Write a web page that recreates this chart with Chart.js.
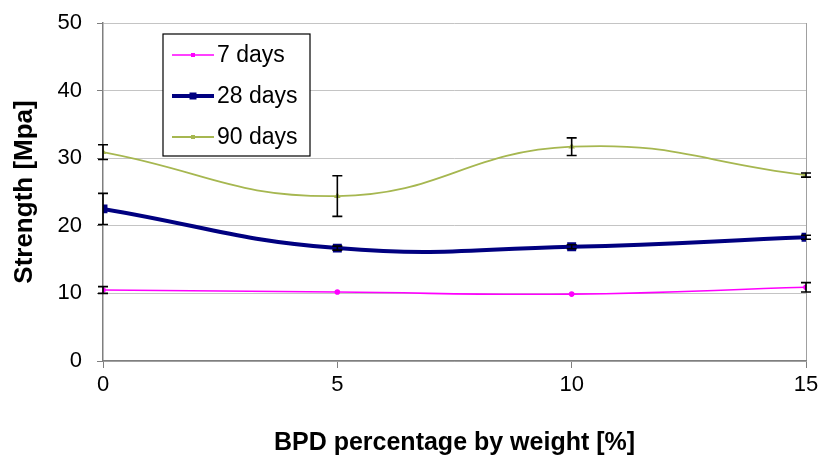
<!DOCTYPE html>
<html>
<head>
<meta charset="utf-8">
<script src="https://cdn.jsdelivr.net/npm/chart.js@4"></script>
<style>
  html, body { margin: 0; padding: 0; background: #fff; }
  #wrap { width: 822px; height: 459px; }
</style>
</head>
<body>
<div id="wrap"><canvas id="c" width="822" height="459"></canvas></div>
<script>
// datos
const bpd = [0, 5, 10, 15];
const days7 = [10.5, 10.2, 9.9, 10.9];
const days28 = [22.5, 16.7, 16.9, 18.3];
const days90 = [30.9, 24.4, 31.7, 27.5];
const err7 = [0.5, 0, 0, 0.7];
const err28 = [2.3, 0.3, 0.3, 0.3];
const err90 = [1.1, 3.0, 1.3, 0.3];
const yTicks = [0, 10, 20, 30, 40, 50];
const xTicks = [0, 5, 10, 15];

const font = "'Liberation Sans', Arial, sans-serif";

function pts(vals) {
  return bpd.map((x, i) => ({ x: x, y: vals[i] }));
}

// barras de error
const errorBars = {
  id: 'errorBars',
  afterDatasetsDraw(chart) {
    const ctx = chart.ctx;
    const xs = chart.scales.x, ys = chart.scales.y;
    ctx.save();
    ctx.strokeStyle = '#000';
    ctx.lineWidth = 1.6;
    chart.data.datasets.forEach(ds => {
      ds.errors.forEach((e, i) => {
        if (!e) return;
        const px = xs.getPixelForValue(bpd[i]);
        const top = ys.getPixelForValue(ds.data[i].y + e);
        const bot = ys.getPixelForValue(ds.data[i].y - e);
        ctx.beginPath();
        ctx.moveTo(px, top); ctx.lineTo(px, bot);
        ctx.moveTo(px - 5, top); ctx.lineTo(px + 5, top);
        ctx.moveTo(px - 5, bot); ctx.lineTo(px + 5, bot);
        ctx.stroke();
      });
    });
    ctx.restore();
  }
};

// leyenda con recuadro
const boxLegend = {
  id: 'boxLegend',
  afterDraw(chart) {
    const ctx = chart.ctx;
    ctx.save();
    ctx.fillStyle = '#fff';
    ctx.fillRect(163, 34, 147, 122);
    ctx.strokeStyle = '#000';
    ctx.lineWidth = 1.2;
    ctx.strokeRect(163, 34, 147, 122);
    ctx.font = '23px ' + font;
    ctx.textBaseline = 'middle';
    chart.data.datasets.forEach((ds, i) => {
      const y = 55 + i * 41;
      ctx.strokeStyle = ds.borderColor;
      ctx.lineWidth = ds.borderWidth;
      ctx.beginPath();
      ctx.moveTo(172, y); ctx.lineTo(214, y);
      ctx.stroke();
      ctx.fillStyle = ds.borderColor;
      const r = ds.pointRadius;
      ctx.fillRect(193 - r, y - r, 2 * r, 2 * r);
      ctx.fillStyle = '#000';
      ctx.fillText(ds.label, 217, y + 1);
    });
    ctx.restore();
  }
};

new Chart(document.getElementById('c'), {
  type: 'line',
  data: {
    datasets: [
      { label: '7 days', data: pts(days7), errors: err7, borderColor: '#ff00ff', backgroundColor: '#ff00ff',
        borderWidth: 1.6, pointRadius: 2, pointStyle: 'circle', tension: 0.45 },
      { label: '28 days', data: pts(days28), errors: err28, borderColor: '#000080', backgroundColor: '#000080',
        borderWidth: 4, pointRadius: 3.5, pointStyle: 'rect', tension: 0.45 },
      { label: '90 days', data: pts(days90), errors: err90, borderColor: '#a6b750', backgroundColor: '#a6b750',
        borderWidth: 1.8, pointRadius: 2, pointStyle: 'triangle', tension: 0.45 }
    ]
  },
  options: {
    animation: false,
    responsive: false,
    layout: { padding: { top: 23, right: 16, left: 0, bottom: 0 } },
    plugins: { legend: { display: false }, tooltip: { enabled: false } },
    scales: {
      x: {
        type: 'linear', min: 0, max: 15,
        afterBuildTicks: s => { s.ticks = xTicks.map(v => ({ value: v })); },
        afterFit: s => { s.height = 98; s.paddingLeft = 0; s.paddingRight = 0; },
        border: { color: '#7f7f7f', width: 1.5 },
        grid: {
          drawOnChartArea: true, tickLength: 7, tickColor: '#7f7f7f',
          color: c => (c.tick && c.tick.value === 15 ? '#a0a0a0' : 'rgba(0,0,0,0)')
        },
        ticks: { color: '#000', padding: 4, font: { family: font, size: 22 } },
        title: { display: true, text: 'BPD percentage by weight [%]', color: '#000',
          font: { family: font, size: 25, weight: 'bold' }, padding: { top: 0, bottom: 1 } }
      },
      y: {
        min: 0, max: 50,
        afterBuildTicks: s => { s.ticks = yTicks.map(v => ({ value: v })); },
        afterFit: s => { s.width = 103; s.paddingTop = 0; s.paddingBottom = 0; },
        border: { color: '#7f7f7f', width: 1.5 },
        grid: { color: '#c4c4c4', lineWidth: 1, tickLength: 6, tickColor: '#7f7f7f' },
        ticks: { color: '#000', padding: 15, font: { family: font, size: 22 } },
        title: { display: true, text: 'Strength [Mpa]', color: '#000',
          font: { family: font, size: 26, weight: 'bold' }, padding: { top: 9, bottom: 9 } }
      }
    }
  },
  plugins: [errorBars, boxLegend]
});
</script>
</body>
</html>
